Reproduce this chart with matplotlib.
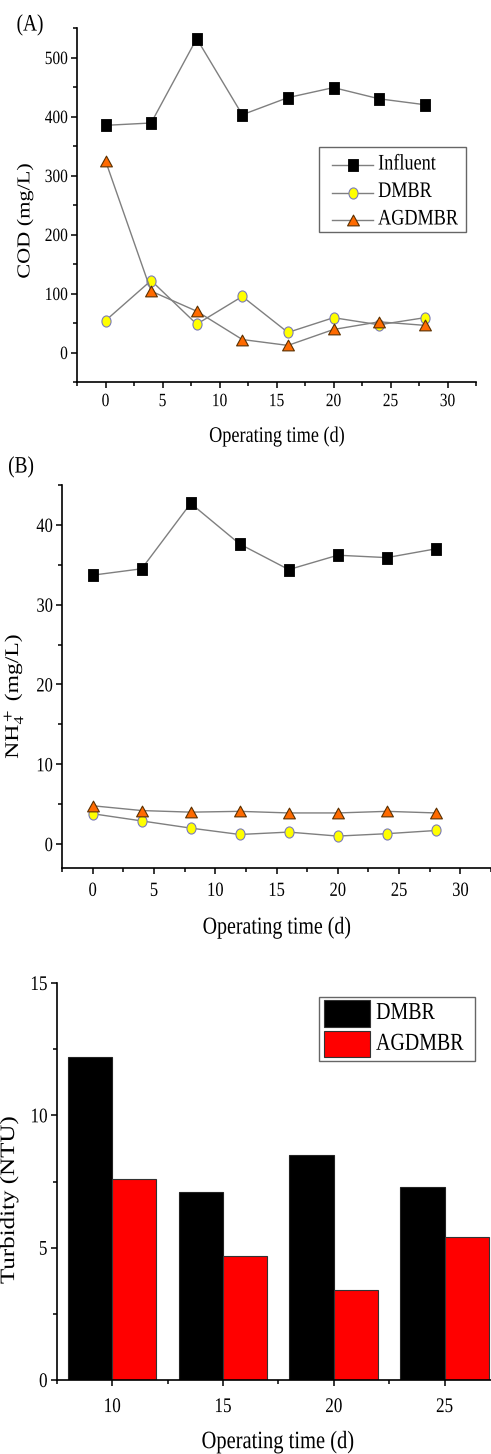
import numpy as np
import matplotlib
matplotlib.use("Agg")
import matplotlib.pyplot as plt
from matplotlib.ticker import MultipleLocator
from matplotlib.patheffects import AbstractPathEffect
from matplotlib.transforms import Affine2D
from matplotlib.path import Path
from matplotlib.lines import Line2D
from matplotlib.patches import Rectangle

plt.rcParams['font.family'] = ['Liberation Serif', 'DejaVu Serif']
plt.rcParams['mathtext.fontset'] = 'stix'

# data
days = [0, 4, 8, 12, 16, 20, 24, 28]
cod_influent = [385, 389, 532, 403, 432, 449, 430, 420]
cod_dmbr = [54, 122, 48, 95, 34, 59, 47, 59]
cod_agdmbr = [325, 104, 70, 22, 12, 39, 52, 46]

nh4_influent = [33.7, 34.5, 42.7, 37.6, 34.4, 36.2, 35.9, 37.0]
nh4_dmbr = [3.8, 2.9, 2.0, 1.2, 1.5, 1.0, 1.3, 1.7]
nh4_agdmbr = [4.8, 4.2, 4.0, 4.1, 3.9, 3.9, 4.1, 3.9]

turb_days = [10, 15, 20, 25]
turb_dmbr = [12.2, 7.1, 8.5, 7.3]
turb_agdmbr = [7.6, 4.7, 3.4, 5.4]

series_names = ['Influent', 'DMBR', 'AGDMBR']

W, H = 491, 1454
SX = 0.82          # the source picture is squeezed sideways
LINE = '#7f7f7f'


class Squash(AbstractPathEffect):
    # narrows text horizontally around an anchor
    def __init__(self, anchor='center'):
        super().__init__()
        self.anchor = anchor

    def draw_path(self, renderer, gc, tpath, affine, rgbFace=None):
        ext = tpath.get_extents(affine)
        if self.anchor == 'right':
            a = ext.x1
        elif self.anchor == 'left':
            a = ext.x0
        else:
            a = (ext.x0 + ext.x1) / 2
        t = affine + Affine2D().translate(-a, 0).scale(SX, 1).translate(a, 0)
        renderer.draw_path(gc, tpath, t, rgbFace)


ellipse = Affine2D().scale(SX, 1).transform_path(Path.unit_circle())
rect = Path([(-SX / 2, -0.5), (SX / 2, -0.5), (SX / 2, 0.5), (-SX / 2, 0.5),
             (-SX / 2, -0.5)], closed=True)
tri = Path([(0, 0.5), (-0.55, -0.5), (0.55, -0.5), (0, 0.5)], closed=True)

STYLES = [
    dict(marker=rect, ms=8, mfc='black', mec='black', mew=0.6),
    dict(marker=ellipse, ms=8, mfc='#ffff00', mec='#7b7bb8', mew=0.8),
    dict(marker=tri, ms=8.5, mfc='#ff6a00', mec='#5a3000', mew=0.8),
]


def box(l, t, r, b):
    return [l / W, 1 - b / H, (r - l) / W, (b - t) / H]


def txt(x, y, s, size, anchor='center', **kw):
    fig.text(x / W, 1 - y / H, s, fontsize=size, va='center',
             ha=anchor, path_effects=[Squash(anchor)], **kw)


def style(ax, xmaj, xmin, ymaj, ymin, size, xpad):
    for s in ['top', 'right']:
        ax.spines[s].set_visible(False)
    for s in ['left', 'bottom']:
        ax.spines[s].set_linewidth(1.2)
    ax.xaxis.set_major_locator(MultipleLocator(xmaj))
    ax.xaxis.set_minor_locator(MultipleLocator(xmin))
    ax.yaxis.set_major_locator(MultipleLocator(ymaj))
    ax.yaxis.set_minor_locator(MultipleLocator(ymin))
    ax.tick_params(which='major', length=4.5, width=1.1, labelsize=size)
    ax.tick_params(which='minor', length=3, width=1.1)
    ax.tick_params(axis='x', which='major', pad=xpad)
    ax.tick_params(axis='y', which='major', pad=2)
    for lab in ax.get_xticklabels():
        lab.set_path_effects([Squash('center')])
    for lab in ax.get_yticklabels():
        lab.set_path_effects([Squash('right')])


def lines(ax, data):
    for vals, name, st in zip(data, series_names, STYLES):
        ax.plot(days, vals, color=LINE, lw=1, label=name, **st)


fig = plt.figure(figsize=(W / 100, H / 100), dpi=100)

# (A) COD
ax1 = fig.add_axes(box(77, 28, 476, 382))
lines(ax1, [cod_influent, cod_dmbr, cod_agdmbr])
ax1.set_xlim(-2.5, 32.5)
ax1.set_ylim(-50, 550)
style(ax1, 5, 2.5, 100, 50, 13.5, 3.5)

# legend drawn by hand so its box fits the narrowed text
fig.add_artist(Rectangle((319 / W, 1 - 232 / H), 147 / W, 85 / H,
                         transform=fig.transFigure, facecolor='white',
                         edgecolor='#666666', lw=1))
for i, (name, st) in enumerate(zip(series_names, STYLES)):
    yy = 1 - (165 + 27.5 * i) / H
    fig.add_artist(Line2D([332 / W, 352.5 / W, 373 / W], [yy, yy, yy],
                          transform=fig.transFigure, color=LINE, lw=1,
                          markevery=[1], **st))
    txt(378, 165 + 27.5 * i, name, 16, anchor='left')

txt(30, 25, '(A)', 17)
txt(25.5, 221, 'COD (mg/L)', 16, rotation=90)
txt(277, 437, 'Operating time (d)', 16)

# (B) NH4+
ax2 = fig.add_axes(box(62, 485, 491, 868))
lines(ax2, [nh4_influent, nh4_dmbr, nh4_agdmbr])
ax2.set_xlim(-2.5, 32.5)
ax2.set_ylim(-3, 45)
style(ax2, 5, 2.5, 10, 5, 14.5, 5.5)
txt(21, 467, '(B)', 17)
txt(13.5, 696, r'NH$_4^+$ (mg/L)', 17, rotation=90)
txt(277, 928, 'Operating time (d)', 17.5)

# turbidity bars
ax3 = fig.add_axes(box(56.7, 983, 500, 1380))
x = np.array(turb_days)
ax3.bar(x - 1, turb_dmbr, width=2, color='black', edgecolor='#222222',
        lw=0.8, label='DMBR')
ax3.bar(x + 1, turb_agdmbr, width=2, color='#ff0000', edgecolor='#333333',
        lw=0.8, label='AGDMBR')
ax3.set_xlim(7.5, 27.5)
ax3.set_ylim(0, 15)
style(ax3, 5, 2.5, 5, 2.5, 15, 8.5)

fig.add_artist(Rectangle((319 / W, 1 - 1061 / H), 156 / W, 64 / H,
                         transform=fig.transFigure, facecolor='white',
                         edgecolor='#666666', lw=1))
for i, (name, col) in enumerate([('DMBR', 'black'), ('AGDMBR', '#ff0000')]):
    top = 1000 + 30.8 * i
    fig.add_artist(Rectangle((324 / W, 1 - (top + 26.5) / H), 46 / W,
                             26.5 / H, transform=fig.transFigure,
                             facecolor=col, edgecolor='#333333', lw=0.8))
    txt(376, top + 13.5, name, 17.5, anchor='left')

txt(9, 1200, 'Turbidity (NTU)', 18, rotation=90)
txt(278, 1442, 'Operating time (d)', 18)

fig.savefig('out.png', dpi=100)
